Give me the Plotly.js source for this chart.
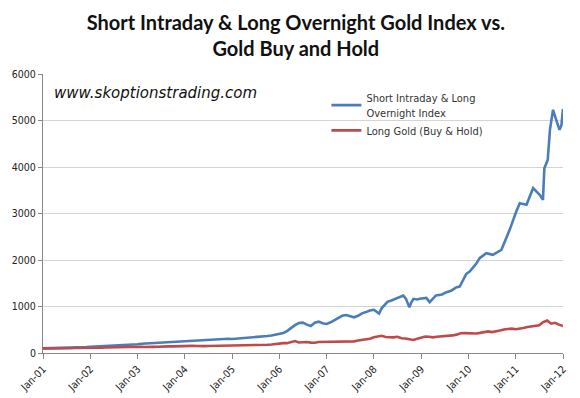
<!DOCTYPE html>
<html>
<head>
<meta charset="utf-8">
<script src="https://cdn.plot.ly/plotly-3.0.1.min.js"></script>
<style>html,body{margin:0;padding:0;background:#fff;}#chart{width:580px;height:398px;}</style>
</head>
<body>
<div id="chart"></div>
<script>
// Monthly observations Jan-2001 .. Jan-2012 (first of month)
const monthlyStartYear = 2001;
const monthlyEndYear = 2012;

// Long Gold (Buy & Hold), monthly, indexed to 100 at Jan-01
const gold2001 = [100, 98, 97, 97, 102, 101, 99, 102, 107, 106, 104, 104];
const gold2002 = [106, 111, 111, 114, 118, 121, 117, 117, 120, 119, 120, 126];
const gold2003 = [134, 135, 128, 124, 132, 134, 132, 137, 143, 143, 147, 155];
const gold2004 = [157, 153, 153, 151, 145, 148, 150, 151, 153, 158, 165, 167];
const gold2005 = [160, 160, 164, 162, 159, 163, 160, 165, 172, 177, 182, 195];
const gold2006 = [207, 212, 212, 232, 258, 225, 238, 236, 224, 222, 236, 237];
const gold2007 = [238, 250, 247, 256, 250, 246, 250, 250, 268, 284, 304, 305];
const gold2008 = [340, 360, 370, 343, 338, 336, 350, 318, 312, 290, 280, 306];
const gold2009 = [325, 355, 350, 336, 350, 357, 352, 358, 378, 395, 425, 428];
const gold2010 = [420, 413, 420, 433, 455, 465, 450, 458, 482, 507, 517, 525];
const gold2011 = [512, 520, 537, 560, 575, 580, 595, 665, 700, 630, 650, 610];
const gold2012 = [580];

// Short Intraday & Long Overnight Index, monthly 2001-2007
const idx2001 = [100, 101, 103, 104, 106, 108, 110, 112, 116, 119, 122, 126];
const idx2002 = [132, 136, 139, 142, 146, 150, 153, 156, 160, 165, 170, 176];
const idx2003 = [188, 198, 203, 207, 212, 218, 224, 230, 236, 242, 248, 255];
const idx2004 = [262, 266, 270, 274, 278, 282, 286, 290, 294, 298, 302, 306];
const idx2005 = [302, 308, 314, 320, 326, 333, 340, 348, 356, 365, 378, 395];
const idx2006 = [409, 430, 470, 540, 600, 645, 652, 610, 581, 650, 674, 640];
const idx2007 = [624, 660, 710, 760, 800, 817, 790, 767, 800, 853, 880, 915];

// Short Intraday & Long Overnight Index, 2008-2012 (irregular dates)
const idxLateDates = [
  '2008-01-01','2008-01-20','2008-02-10','2008-03-01','2008-03-20','2008-04-15','2008-05-15',
  '2008-06-15','2008-07-15','2008-08-15','2008-09-05','2008-10-01','2008-10-15','2008-11-01',
  '2008-12-01','2008-12-20','2009-02-10','2009-03-07','2009-04-25','2009-06-10','2009-07-15',
  '2009-08-20','2009-10-01','2009-10-25','2009-12-15','2010-01-10','2010-03-01','2010-03-28',
  '2010-05-18','2010-07-08','2010-09-12','2010-11-15','2011-01-05','2011-02-01','2011-03-25',
  '2011-05-15','2011-07-05','2011-07-30','2011-08-10','2011-09-05','2011-09-22','2011-10-16',
  '2011-11-05','2011-12-05','2011-12-20','2012-01-01'
];
const idxLateValues = [
  930, 900, 850, 960, 1020, 1100, 1130,
  1165, 1190, 1237, 1165, 986, 1080, 1165,
  1150, 1165, 1186, 1093, 1237, 1260, 1308,
  1340, 1416, 1430, 1703, 1753, 1918, 2040,
  2147, 2111, 2219, 2649, 3043, 3222, 3187,
  3545, 3401, 3294, 3975, 4154, 4800, 5230,
  5050, 4800, 4900, 5250
];

const seriesNames = ['Short Intraday & Long<br>Overnight Index', 'Long Gold (Buy & Hold)'];
const titleText = 'Short Intraday & Long Overnight Gold Index vs.<br>Gold Buy and Hold';
const watermark = 'www.skoptionstrading.com';

function monthlyDates(y0, y1, count) {
  const out = [];
  for (let y = y0; y <= y1; y++) {
    for (let m = 1; m <= 12; m++) {
      if (out.length >= count) return out;
      out.push(y + '-' + String(m).padStart(2, '0') + '-01');
    }
  }
  return out;
}

const goldValues = [].concat(gold2001, gold2002, gold2003, gold2004, gold2005, gold2006,
  gold2007, gold2008, gold2009, gold2010, gold2011, gold2012);
const goldDates = monthlyDates(monthlyStartYear, monthlyEndYear, goldValues.length);

const idxEarly = [].concat(idx2001, idx2002, idx2003, idx2004, idx2005, idx2006, idx2007);
const idxDates = monthlyDates(monthlyStartYear, 2007, idxEarly.length).concat(idxLateDates);
const idxValues = idxEarly.concat(idxLateValues);

const tickFont = {family: 'DejaVu Sans Condensed, DejaVu Sans, sans-serif', size: 10.5, color: '#222222'};

const data = [
  {x: idxDates, y: idxValues, type: 'scatter', mode: 'lines', name: seriesNames[0],
   line: {color: '#4a7ebb', width: 2.6}},
  {x: goldDates, y: goldValues, type: 'scatter', mode: 'lines', name: seriesNames[1],
   line: {color: '#be4b48', width: 2.6}}
];

const layout = {
  width: 580, height: 398,
  paper_bgcolor: '#ffffff', plot_bgcolor: '#ffffff',
  margin: {l: 43, r: 17, t: 74, b: 45},
  title: {text: titleText, x: 0.51, xanchor: 'center', y: 0.925, yanchor: 'top',
          font: {family: 'Lato, Open Sans, sans-serif', size: 20, color: '#111111', weight: 'bold'}},
  xaxis: {
    type: 'date', range: ['2001-01-01', '2012-01-01'],
    tick0: '2001-01-01', dtick: 'M12', tickformat: '%b-%y', tickangle: -45,
    ticks: 'outside', ticklen: 5, tickcolor: '#888888', tickwidth: 1,
    showline: true, linecolor: '#888888', linewidth: 1,
    showgrid: false, zeroline: false, tickfont: tickFont, fixedrange: true
  },
  yaxis: {
    range: [0, 6000], dtick: 1000, tick0: 0,
    ticks: 'outside', ticklen: 4, tickcolor: '#888888', tickwidth: 1,
    showline: true, linecolor: '#888888', linewidth: 1,
    showgrid: true, gridcolor: '#d4d4d4', gridwidth: 1,
    zeroline: false, tickfont: tickFont, fixedrange: true
  },
  showlegend: true,
  legend: {x: 0.545, y: 0.963, xanchor: 'left', yanchor: 'top', bgcolor: 'rgba(255,255,255,0)',
           font: {family: 'DejaVu Sans Condensed, DejaVu Sans, sans-serif', size: 11, color: '#333333'},
           tracegroupgap: 13, itemwidth: 30},
  annotations: [{
    text: watermark, xref: 'paper', yref: 'paper', x: 0.017, y: 0.932,
    xanchor: 'left', yanchor: 'middle', showarrow: false,
    font: {family: 'DejaVu Sans, sans-serif', size: 15, color: '#111111', style: 'italic'}
  }]
};

Plotly.newPlot('chart', data, layout, {displayModeBar: false, staticPlot: true});
</script>
</body>
</html>
